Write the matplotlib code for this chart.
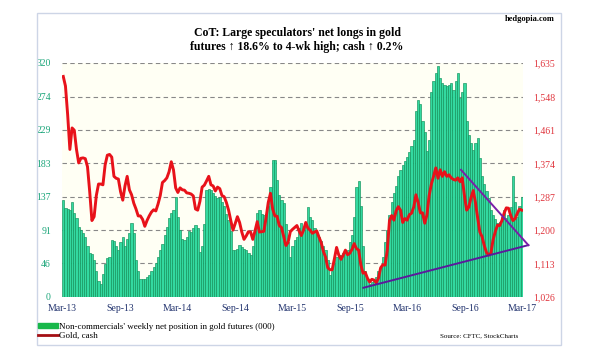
import pandas as pd
import numpy as np
import matplotlib
matplotlib.use("Agg")
import matplotlib.pyplot as plt
import matplotlib.dates as mdates
from matplotlib.patches import Patch, Rectangle
from matplotlib.lines import Line2D

# ---------------------------------------------------------
# Donnees (hebdomadaire, mars 2013 -> fev 2017)
# ---------------------------------------------------------
start = "2013-03-05"

net_longs = [
    132, 122, 121, 119, 130, 115, 108, 96, 92, 88,
    82, 70, 60, 59, 50, 35, 22, 18, 32, 45,
    53, 55, 78, 76, 70, 64, 75, 82, 70, 80,
    87, 101, 87, 50, 35, 25, 25, 24, 27, 30,
    35, 41, 47, 55, 64, 72, 85, 96, 108, 115,
    119, 137, 110, 91, 80, 78, 82, 90, 89, 95,
    98, 94, 62, 70, 100, 146, 148, 146, 142, 138,
    135, 137, 130, 125, 114, 105, 90, 64, 64, 66,
    71, 69, 66, 64, 60, 57, 70, 90, 115, 119,
    114, 112, 114, 125, 150, 187, 187, 160, 140, 132,
    128, 100, 75, 55, 70, 78, 82, 95, 101, 91,
    98, 123, 110, 105, 95, 88, 82, 76, 70, 64,
    50, 30, 35, 45, 55, 57, 58, 60, 62, 64,
    75, 85, 110, 151, 158, 125, 70, 35, 25, 18,
    20, 23, 28, 35, 41, 55, 75, 91, 112, 130,
    142, 152, 165, 174, 180, 186, 192, 198, 206, 215,
    255, 270, 264, 240, 226, 200, 215, 280, 296, 306,
    316, 300, 292, 290, 288, 290, 292, 283, 295, 306,
    272, 280, 292, 240, 222, 210, 201, 210, 217, 190,
    165, 155, 145, 135, 119, 112, 106, 101, 103, 110,
    119, 108, 112, 123, 165, 130, 110, 125, 137,
]

gold = [
    1600, 1575, 1500, 1410, 1466, 1460, 1410, 1375, 1387, 1388,
    1386, 1365, 1300, 1225, 1235, 1290, 1320, 1320, 1318, 1370,
    1395, 1397, 1390, 1340, 1335, 1333, 1300, 1278, 1315, 1340,
    1305, 1292, 1270, 1255, 1237, 1237, 1228, 1210, 1225, 1237,
    1247, 1253, 1250, 1268, 1290, 1324, 1329, 1336, 1352, 1378,
    1357, 1310, 1298, 1310, 1305, 1304, 1297, 1296, 1294, 1289,
    1255, 1252, 1275, 1312, 1317, 1328, 1340, 1318, 1315, 1302,
    1312, 1308, 1290, 1287, 1272, 1252, 1225, 1200, 1217, 1235,
    1220, 1195, 1176, 1185, 1196, 1195, 1176, 1198, 1222, 1195,
    1196, 1197, 1232, 1272, 1296, 1255, 1237, 1236, 1212, 1207,
    1183, 1160, 1168, 1196, 1202, 1207, 1212, 1198, 1186, 1200,
    1220, 1205, 1200, 1192, 1195, 1198, 1182, 1168, 1145, 1130,
    1102, 1097, 1097, 1125, 1155, 1135, 1124, 1135, 1148, 1136,
    1140, 1150, 1165, 1152, 1148, 1110, 1088, 1090, 1075, 1065,
    1072, 1070, 1063, 1075, 1102, 1110, 1109, 1148, 1225, 1238,
    1226, 1250, 1261, 1252, 1220, 1230, 1226, 1240, 1244, 1260,
    1292, 1272, 1245, 1245, 1218, 1240, 1290, 1320, 1340, 1362,
    1335, 1357, 1340, 1352, 1340, 1344, 1336, 1332, 1330, 1336,
    1326, 1336, 1290, 1252, 1260, 1285, 1303, 1272, 1232, 1195,
    1183, 1160, 1142, 1135, 1140, 1175, 1196, 1213, 1212, 1225,
    1244, 1258, 1257, 1238, 1225, 1230, 1244, 1255, 1252,
]

# lignes de tendance (triangle)
trend_low_dates = ["2015-10-14", "2017-03-21"]
trend_low_prices = [1050, 1161]
trend_high_dates = ["2016-08-19", "2017-03-21"]
trend_high_prices = [1357, 1161]

left_ticks = [0, 46, 91, 137, 183, 229, 274, 320]
right_ticks = [1026, 1113, 1200, 1287, 1374, 1461, 1548, 1635]
xtick_dates = ["2013-03-01", "2013-09-01", "2014-03-01", "2014-09-01", "2015-03-01",
               "2015-09-01", "2016-03-01", "2016-09-01", "2017-03-01"]

dates_bars = pd.date_range(start, periods=len(net_longs), freq="7D")
dates_gold = pd.date_range(start, periods=len(gold), freq="7D")

# ---------------------------------------------------------
# Graphique
# ---------------------------------------------------------
plt.rcParams["font.family"] = ["Liberation Serif", "DejaVu Serif"]
fig = plt.figure(figsize=(6, 3.58), dpi=100)
fig.patch.set_facecolor("white")
fig.add_artist(Rectangle((37 / 600, 1 - 345 / 358), 524 / 600, 332 / 358,
                         transform=fig.transFigure, fill=False,
                         edgecolor="#cdd5e6", linewidth=1))

ax = fig.add_axes([62 / 600, 1 - 297 / 358, 461 / 600, 234 / 358])
ax.set_facecolor("#fffff4")
ax.bar(dates_bars, net_longs, width=7.0, color="#33d9a0",
       edgecolor="#12915a", linewidth=0.45, zorder=2)
ax.set_ylim(0, 320)
ax.set_yticks(left_ticks)
ax.set_yticklabels([str(t) for t in left_ticks])
ax.tick_params(axis="y", colors="#1aa579", labelsize=7, length=0, pad=8)
ax.grid(axis="y", linestyle=(0, (4, 3)), color="#888888", linewidth=0.8, zorder=1)
ax.set_axisbelow(True)

ax.set_xlim(pd.Timestamp("2013-03-01"), pd.Timestamp("2017-03-04"))
ax.set_xticks(pd.to_datetime(xtick_dates))
ax.xaxis.set_major_formatter(mdates.DateFormatter("%b-%y"))
ax.tick_params(axis="x", colors="#22336e", labelsize=7, length=0, pad=5)
for s in ax.spines.values():
    s.set_visible(False)

ax2 = ax.twinx()
ax2.plot(dates_gold, gold, color="#e8121a", linewidth=2.1, zorder=3)
ax2.plot(pd.to_datetime(trend_low_dates), trend_low_prices, color="#5b1a9c",
         linewidth=1.4, clip_on=False, zorder=4)
ax2.plot(pd.to_datetime(trend_high_dates), trend_high_prices, color="#7a1fa8",
         linewidth=1.4, clip_on=False, zorder=4)
ax2.set_ylim(1026, 1635)
ax2.set_yticks(right_ticks)
ax2.set_yticklabels([f"{t:,}" for t in right_ticks])
ax2.tick_params(axis="y", colors="#e0353d", labelsize=7, length=0, pad=7)
for s in ax2.spines.values():
    s.set_visible(False)

fig.text(297 / 600, 1 - 40 / 358, "CoT: Large speculators' net longs in gold\n"
         "futures \u2191 18.6% to 4-wk high; cash \u2191 0.2%",
         ha="center", va="center", fontsize=8.5, fontweight="bold",
         linespacing=1.3, family=["Liberation Serif", "DejaVu Serif"])
fig.text(555 / 600, 1 - 19 / 358, "hedgopia.com", ha="right", va="center",
         fontsize=6, fontweight="bold")
fig.text(518 / 600, 1 - 336 / 358, "Source: CFTC, StockCharts", ha="right",
         va="center", fontsize=5)

handles = [Patch(facecolor="#18b84a", edgecolor="#18b84a"),
           Line2D([0], [0], color="#a40f14", linewidth=2)]
fig.legend(handles, ["Non-commercials' weekly net position in gold futures (000)",
                     "Gold, cash"],
           loc="upper left", bbox_to_anchor=(38 / 600, 1 - 323 / 358),
           frameon=False, fontsize=6.5, handlelength=2.2, handleheight=0.5,
           handletextpad=0.1, labelspacing=0.1, borderpad=0, borderaxespad=0)

plt.savefig("out.png", dpi=100)
plt.close()
